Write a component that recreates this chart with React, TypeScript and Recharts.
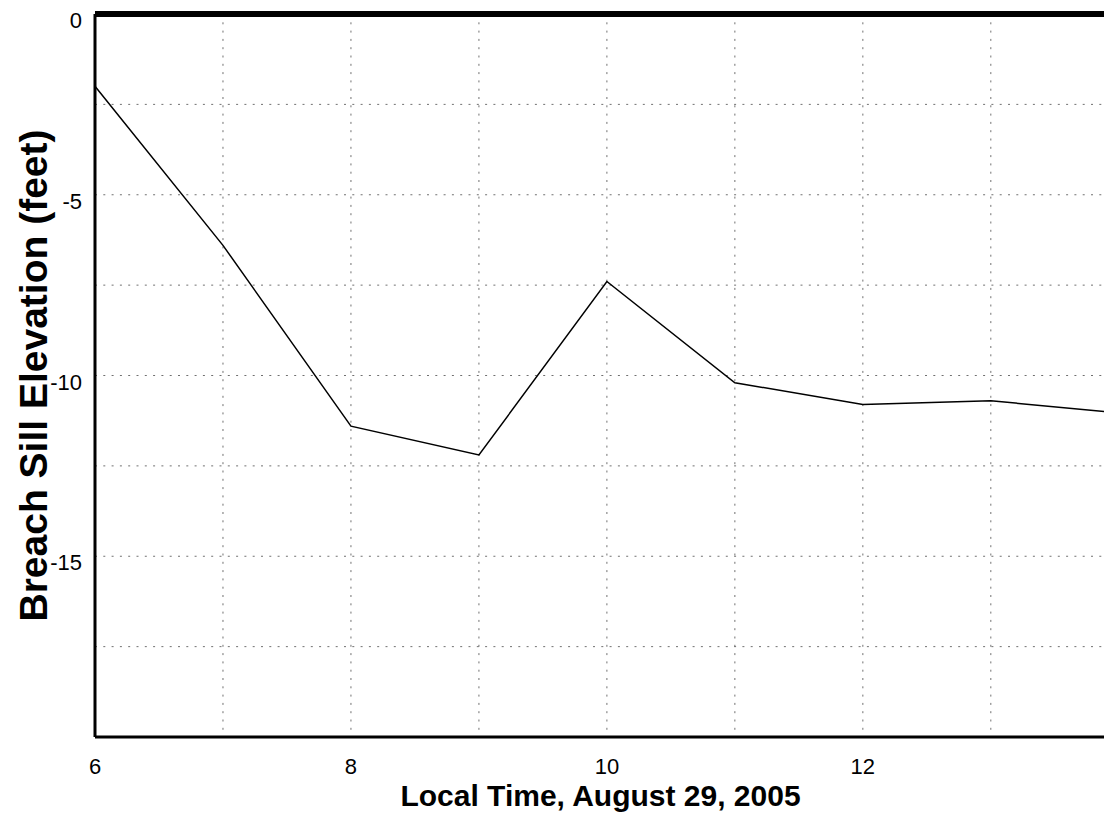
import React from "react";
import {
  LineChart,
  Line,
  XAxis,
  YAxis,
  CartesianGrid,
  ReferenceLine,
  Label,
} from "recharts";

// hours of the day (local time) and breach sill elevation in feet
const hours = [6, 7, 8, 9, 10, 11, 12, 13, 13.9];
const elevation = [-2.0, -6.4, -11.4, -12.2, -7.4, -10.2, -10.8, -10.7, -11.0];

const xTicks = [6, 7, 8, 9, 10, 11, 12, 13];
const yTicks = [0, -2.5, -5, -7.5, -10, -12.5, -15, -17.5, -20];

const data = hours.map((h, i) => ({ hour: h, elevation: elevation[i] }));

const font = "'Liberation Sans', Arial, Helvetica, sans-serif";

const XTick = (p: any) => {
  const v = p.payload.value;
  if (v % 2 !== 0) return <g />;
  return (
    <text x={p.x} y={p.y + 37} textAnchor="middle" fontSize={22} fontFamily={font} fill="#000">
      {v}
    </text>
  );
};

const YTick = (p: any) => {
  const v = p.payload.value;
  if (v % 5 !== 0 || v === -20) return <g />;
  return (
    <text x={p.x} y={p.y + 14} textAnchor="end" fontSize={22} fontFamily={font} fill="#000">
      {v}
    </text>
  );
};

export default function App() {
  return (
    <div
      style={{
        position: "absolute",
        left: 0,
        top: 0,
        width: 1104,
        height: 816,
        overflow: "hidden",
        background: "#fff",
      }}
    >
      <LineChart
        width={1110}
        height={816}
        data={data}
        margin={{ top: 14, right: 4, bottom: 0, left: 0 }}
      >
        <CartesianGrid stroke="#707070" strokeDasharray="2 6.3" />
        <XAxis
          dataKey="hour"
          type="number"
          domain={[6, 13.9]}
          ticks={xTicks}
          allowDataOverflow
          height={79}
          tickSize={0}
          tickMargin={0}
          tickLine={false}
          tick={<XTick />}
          axisLine={{ stroke: "#000", strokeWidth: 3 }}
        >
          <Label
            value="Local Time, August 29, 2005"
            position="insideBottom"
            offset={10}
            fontSize={30}
            fontWeight="bold"
            fontFamily={font}
            fill="#000"
          />
        </XAxis>
        <YAxis
          type="number"
          domain={[-20, 0]}
          ticks={yTicks}
          width={95}
          tickSize={0}
          tickMargin={13}
          tickLine={false}
          tick={<YTick />}
          axisLine={{ stroke: "#000", strokeWidth: 3 }}
        >
          <Label
            value="Breach Sill Elevation (feet)"
            angle={-90}
            position="insideLeft"
            offset={33}
            fontSize={39}
            fontWeight="bold"
            fontFamily={font}
            fill="#000"
            style={{ textAnchor: "middle" }}
          />
        </YAxis>
        <ReferenceLine y={0} stroke="#000" strokeWidth={6} />
        <Line
          type="linear"
          dataKey="elevation"
          stroke="#000"
          strokeWidth={1.5}
          dot={false}
          isAnimationActive={false}
        />
      </LineChart>
    </div>
  );
}
